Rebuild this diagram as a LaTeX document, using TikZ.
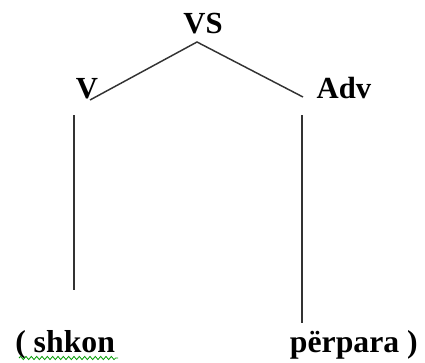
\documentclass[tikz,border=0pt]{standalone}
\usepackage{fontspec}
\setmainfont{Liberation Serif}
\usetikzlibrary{decorations.pathmorphing}
\begin{document}
\begin{tikzpicture}[x=0.75pt,y=-0.75pt,
  lbl/.style={font=\fontsize{23}{23}\selectfont\bfseries, inner sep=0pt, anchor=base},
  word/.style={font=\fontsize{23.8}{24}\selectfont\bfseries, inner sep=0pt},
  branch/.style={draw=black!80, line width=1.1pt}]
\useasboundingbox (0,0) rectangle (425,362);
% category labels
\node[lbl] (vs)  at (203,33) {VS};
\node[lbl] (v)   at (87,98)  {V};
\node[lbl] (adv) at (344,98) {Adv};
% words
\node[word, anchor=base west] (w1) at (15,352) {( shkon};
\node[word, anchor=base east] (w2) at (418,352) {përpara )};
% branch ends
\coordinate (top) at (197,42);
\coordinate (vend) at (90,100);
\coordinate (advend) at (303,97);
\coordinate (l1) at (74,115);
\coordinate (l2) at (74,290);
\coordinate (r1) at (302,115);
\coordinate (r2) at (302,323);
\draw[branch] (vend) -- (top) -- (advend);
\draw[branch] (l1) -- (l2);
\draw[branch] (r1) -- (r2);
% spelling mark under the first word
\coordinate (sq1) at (19,358);
\coordinate (sq2) at (118,358);
\draw[green!60!black, line width=0.6pt,
  decorate, decoration={snake, amplitude=1.2pt, segment length=4pt}] (sq1) -- (sq2);
\end{tikzpicture}
\end{document}
